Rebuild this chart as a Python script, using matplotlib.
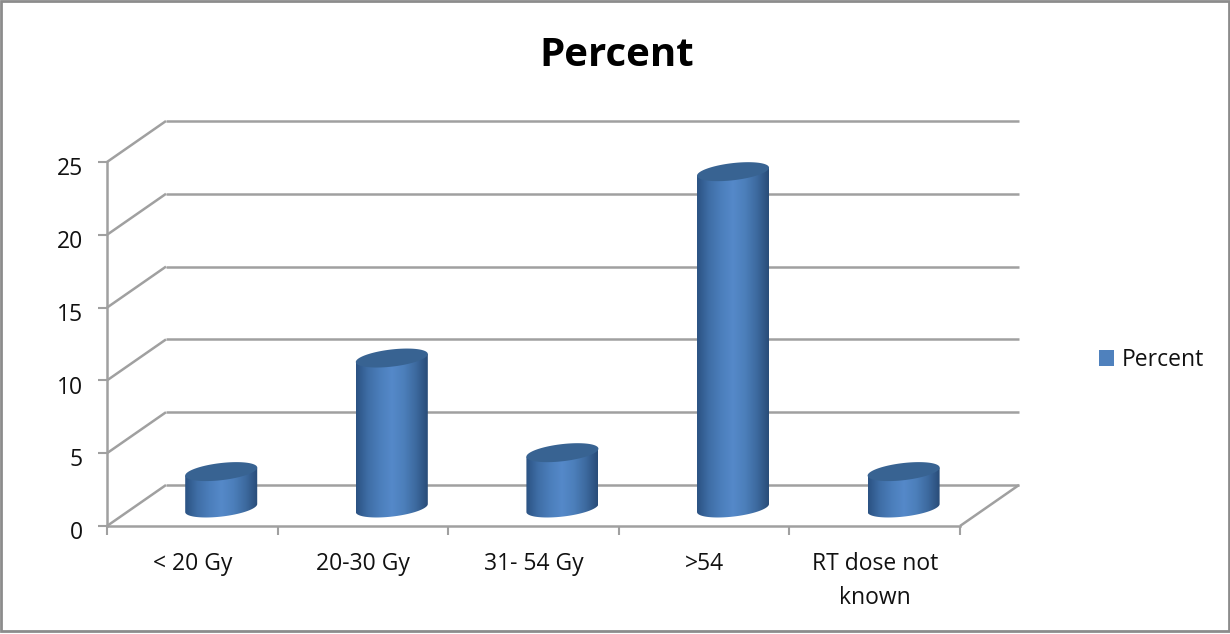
import numpy as np
import matplotlib
matplotlib.use('Agg')
import matplotlib.pyplot as plt
from matplotlib.colors import LinearSegmentedColormap
from matplotlib.patches import Patch, Polygon, Rectangle
from matplotlib.transforms import ScaledTranslation

plt.rcParams['font.family'] = ['Open Sans', 'DejaVu Sans']

categories = ['< 20 Gy', '20-30 Gy', '31- 54 Gy', '>54', 'RT dose not\nknown']
percent = [2.5, 10.3, 3.8, 23.1, 2.5]
y_ticks = [0, 5, 10, 15, 20, 25]

W, H = 1230, 634
left, right, top, bottom = 107, 960, 162, 526  # plot box in pixels
depth_x, depth_y = 59, 41  # how far the back wall sits behind the front

fig = plt.figure(figsize=(W / 100, H / 100), dpi=100, facecolor='white')
ax = fig.add_axes([left / W, 1 - bottom / H, (right - left) / W, (bottom - top) / H])
ax.set_xlim(0, len(categories))
ax.set_ylim(0, 25)
ax.patch.set_alpha(0)

# data units per pixel
ux = len(categories) / (right - left)
uy = 25 / (bottom - top)
dx, dy = depth_x * ux, depth_y * uy

GREY = '#a0a0a0'
line_kw = dict(color=GREY, lw=1.8, clip_on=False, zorder=1, solid_capstyle='butt')

# back wall gridlines and their slanted returns on the side wall
for v in y_ticks:
    ax.plot([dx, len(categories) + dx], [v + dy, v + dy], **line_kw)
    ax.plot([0, dx], [v, v + dy], **line_kw)
# right edge of the floor
ax.plot([len(categories), len(categories) + dx], [0, dy], **line_kw)

# cylinders
body_cmap = LinearSegmentedColormap.from_list(
    'body', ['#2b5282', '#3f6ea6', '#4b7ebb', '#5589c9', '#4c7fbb', '#3d6a9f', '#294c78'])
gradient = np.linspace(0, 1, 256).reshape(1, -1)
rx, ry, tilt = 36 * ux, 8.6 * uy, 4 * uy
t = np.linspace(0, 2 * np.pi, 121)
ell_x = rx * np.cos(t)
ell_y = ry * np.sin(t) + tilt * np.cos(t)

for i, val in enumerate(percent):
    cx = i + 0.5 + 0.49 * dx
    base = 18 * uy
    lower = t >= np.pi
    lx = cx + ell_x[lower]
    ly = base + ell_y[lower]
    outline = np.column_stack([np.r_[lx, cx + rx, cx - rx],
                               np.r_[ly, base + val + tilt, base + val - tilt]])
    im = ax.imshow(gradient, cmap=body_cmap, aspect='auto', interpolation='bilinear',
                   extent=[cx - rx, cx + rx, base - 2, base + val + 2], zorder=3)
    im.set_clip_path(Polygon(outline, closed=True, transform=ax.transData))
    ax.fill(cx + ell_x, base + val + ell_y, color='#386392', lw=0, zorder=4, clip_on=False)

ax.set_xlim(0, len(categories))
ax.set_ylim(0, 25)

# axes, ticks and labels
for side in ['top', 'right']:
    ax.spines[side].set_visible(False)
for side in ['left', 'bottom']:
    ax.spines[side].set_color(GREY)
    ax.spines[side].set_linewidth(1.8)
    ax.spines[side].set_zorder(2)

ax.set_yticks(y_ticks)
ax.tick_params(axis='y', length=6.5, width=1.5, color=GREY, pad=11, labelsize=16.5, labelcolor='#111111')
# the numbers sit a little below their tick marks
nudge = ScaledTranslation(0, -3 / 72, fig.dpi_scale_trans)
for lab in ax.get_yticklabels():
    lab.set_transform(lab.get_transform() + nudge)
ax.set_xticks(range(len(categories) + 1))
ax.set_xticklabels([])
ax.tick_params(axis='x', which='major', length=6.5, width=1.5, color=GREY)
ax.set_xticks(np.arange(len(categories)) + 0.5, minor=True)
ax.set_xticklabels(categories, minor=True, linespacing=1.6)
ax.tick_params(axis='x', which='minor', length=0, pad=18.5, labelsize=16.5, labelcolor='#111111')

fig.text(617 / W, 1 - 56 / H, 'Percent', fontsize=29, fontweight='bold',
         ha='center', va='center', color='black')

handle = Patch(facecolor='#4f81bd', edgecolor='none', label='Percent')
fig.legend(handles=[handle], loc='center left', bbox_to_anchor=(1078 / W, 1 - 360 / H),
           frameon=False, fontsize=16.5, handlelength=0.66, handleheight=0.66,
           handletextpad=0.34, labelcolor='#111111')

# chart frame
fig.add_artist(Rectangle((1 / W, 3 / H), (W - 2) / W, (H - 4) / H, transform=fig.transFigure,
                         facecolor='none', edgecolor='#8c8c8c', lw=2))

fig.savefig('out.png', dpi=100)
